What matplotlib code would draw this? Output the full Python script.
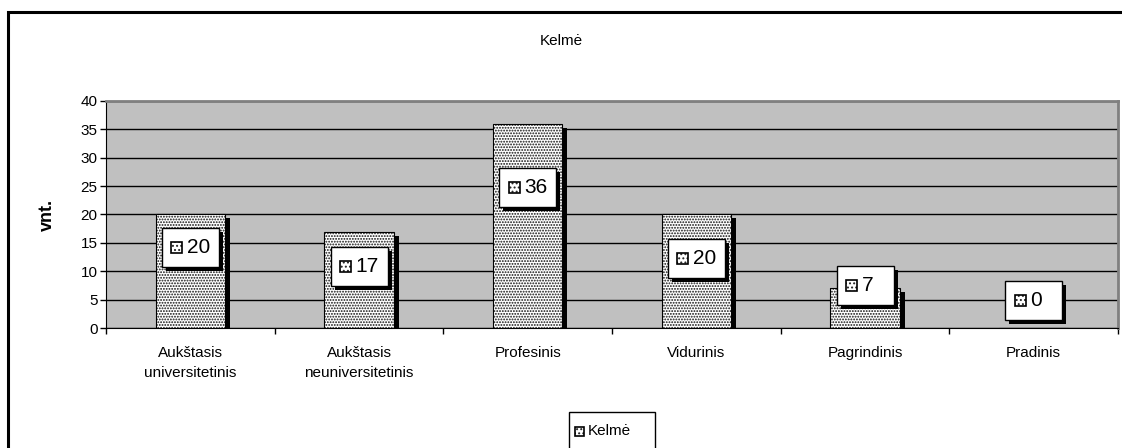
import matplotlib
matplotlib.use("Agg")
import matplotlib.pyplot as plt
import matplotlib.patches as mpatches
import matplotlib.transforms as mtransforms

plt.rcParams['font.family'] = ['Liberation Sans', 'DejaVu Sans']
plt.rcParams['hatch.linewidth'] = 0.9

categories = ['Aukštasis\nuniversitetinis', 'Aukštasis\nneuniversitetinis',
              'Profesinis', 'Vidurinis', 'Pagrindinis', 'Pradinis']
values = [20, 17, 36, 20, 7, 0]
series_name = 'Kelmė'
title = 'Kelmė'
ylabel = 'vnt.'
# where the data labels sit (value units), as moved in the original
label_y = [14.1, 10.9, 24.8, 12.2, 7.5, 4.8]

W, H, DPI = 1122, 448, 100
fig = plt.figure(figsize=(W / DPI, H / DPI), dpi=DPI)
fig.patch.set_facecolor('white')

# plot area in pixels: left 106, right 1118, top 101, bottom 328
ax = fig.add_axes([106 / W, 1 - 328 / H, (1118 - 106) / W, (328 - 101) / H])
ax.set_facecolor('#C0C0C0')
ax.set_xlim(0, len(values))
ax.set_ylim(0, 40)
ax.set_yticks(range(0, 41, 5))
ax.grid(axis='y', color='black', linewidth=1)
ax.set_axisbelow(True)

x = [i + 0.5 for i in range(len(values))]
bw = 0.41

# bar shadows
shadow_tr = mtransforms.offset_copy(ax.transData, fig=fig, x=5, y=-4, units='dots')
ax.bar(x, values, width=bw, color='black', linewidth=0, transform=shadow_tr, zorder=2)
# hatched bars
ax.bar(x, values, width=bw, color='white', edgecolor='#111111', hatch='......',
       linewidth=0, zorder=3)
ax.bar(x, values, width=bw, fill=False, edgecolor='black', linewidth=0.8, zorder=4)

# axes styling
for s in ['top', 'right']:
    ax.spines[s].set_color('#808080')
    ax.spines[s].set_linewidth(2)
ax.spines['left'].set_color('black')
ax.spines['bottom'].set_color('black')
ax.set_xticks(range(len(values) + 1))
ax.set_xticklabels([])
ax.set_xticks(x, minor=True)
ax.set_xticklabels(categories, minor=True, fontsize=11, linespacing=1.55)
ax.tick_params(axis='x', which='major', direction='out', length=4, width=1)
ax.tick_params(axis='x', which='minor', length=0, pad=13)
ax.tick_params(axis='y', direction='out', length=4, width=1, labelsize=11, pad=2)
ax.set_ylabel(ylabel, fontsize=13, fontweight='bold')
ax.yaxis.set_label_coords(-0.049, 0.5)

fig.text(561 / W, 1 - 41 / H, title, ha='center', va='center', fontsize=11)

fig.canvas.draw()
pix = mtransforms.IdentityTransform()


def key_icon(cx, cy, size=11):
    fig.add_artist(mpatches.Rectangle((cx - size / 2, cy - size / 2), size, size,
                                      facecolor='white', edgecolor='#222222', hatch='....',
                                      linewidth=0, transform=pix, zorder=11))
    fig.add_artist(mpatches.Rectangle((cx - size / 2, cy - size / 2), size, size,
                                      fill=False, edgecolor='black', linewidth=1.2,
                                      transform=pix, zorder=12))


# data labels with shadow
for xi, v, ly in zip(x, values, label_y):
    px, py = ax.transData.transform((xi, ly))
    bw_px, bh_px = 57, 39
    x0, y0 = px - bw_px / 2, py - bh_px / 2
    fig.add_artist(mpatches.Rectangle((x0 + 4, y0 - 4), bw_px, bh_px, facecolor='black',
                                      linewidth=0, transform=pix, zorder=9))
    fig.add_artist(mpatches.Rectangle((x0, y0), bw_px, bh_px, facecolor='white',
                                      edgecolor='black', linewidth=1, transform=pix, zorder=10))
    key_icon(x0 + 15, py)
    fig.text((x0 + 25) / W, py / H, str(v), ha='left', va='center', fontsize=15, zorder=13)

# legend box at the bottom (cut by the figure edge)
lx0, ly_top = 569, 412
fig.add_artist(mpatches.Rectangle((lx0, -10), 86, H - ly_top + 10, facecolor='white',
                                  edgecolor='black', linewidth=1, transform=pix, zorder=10))
key_icon(lx0 + 10, H - 431, size=9)
fig.text((lx0 + 19) / W, 1 - 431 / H, series_name, ha='left', va='center', fontsize=11, zorder=13)

# chart border
fig.add_artist(mpatches.Rectangle((8, -20), W + 20, H - 12 + 20, fill=False,
                                  edgecolor='black', linewidth=2.2, transform=pix, zorder=20))

fig.savefig('out.png', dpi=DPI, facecolor='white')
